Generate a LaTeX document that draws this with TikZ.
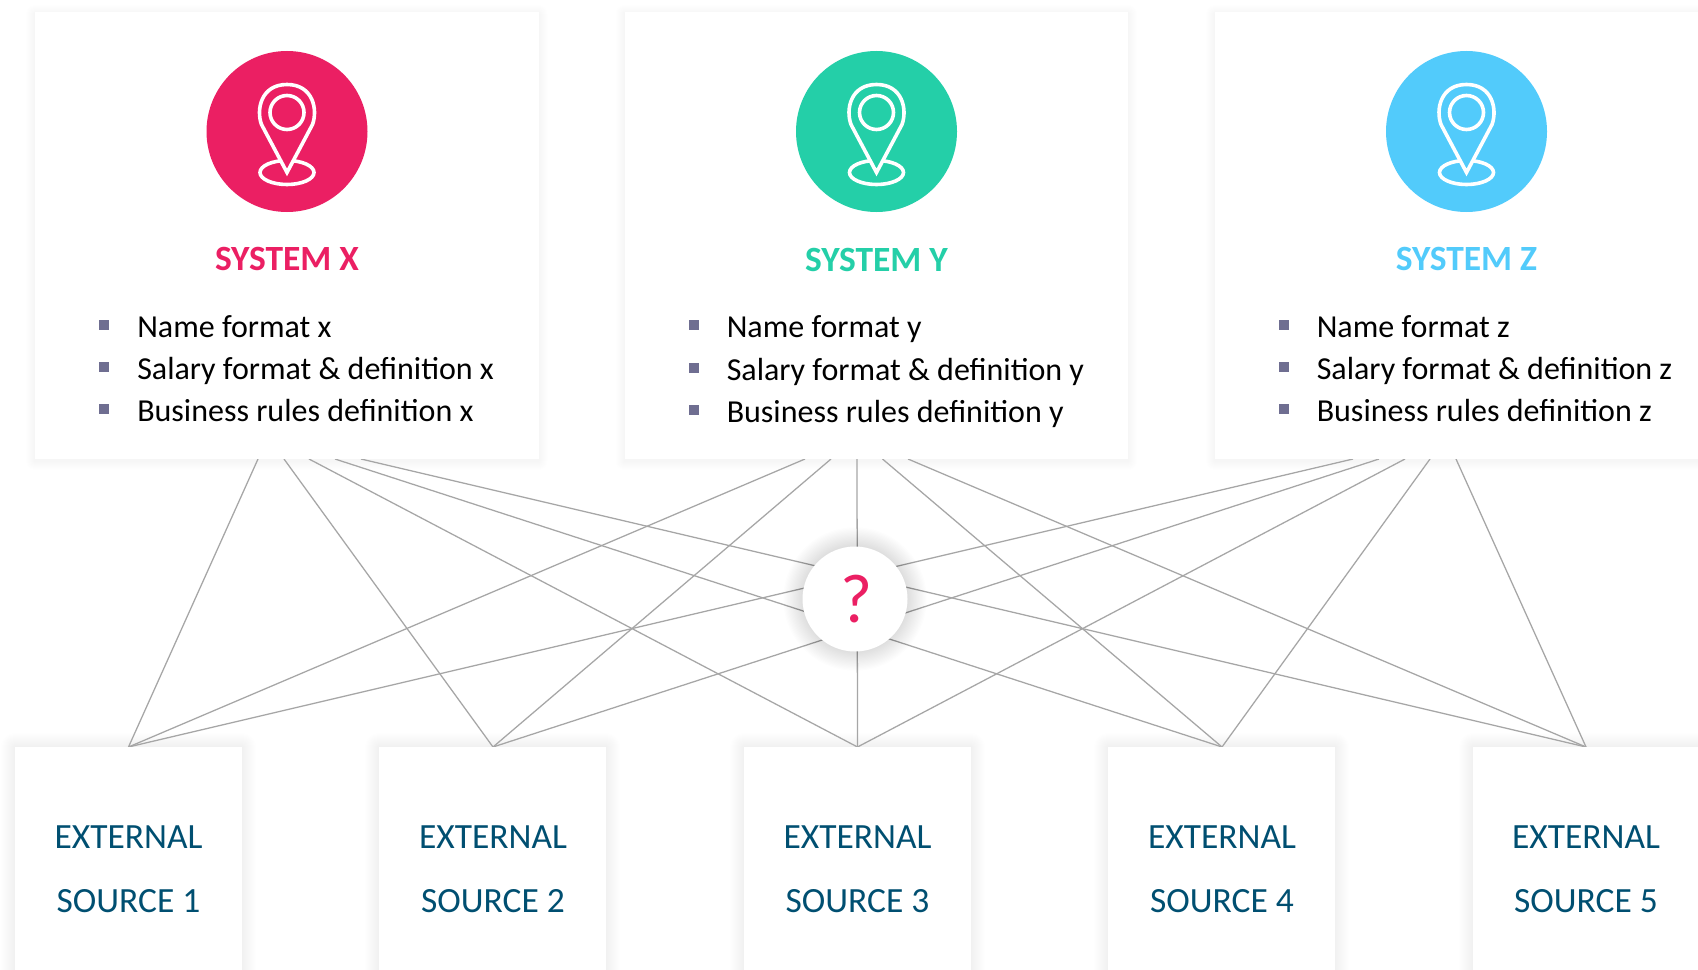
\documentclass[tikz,border=0pt]{standalone}
\usepackage{fontspec}
\setmainfont{Carlito}
\definecolor{pinkc}{HTML}{EB1F63}
\definecolor{greenc}{HTML}{24CFA8}
\definecolor{bluec}{HTML}{52CBFB}
\definecolor{navyc}{HTML}{004F71}
\definecolor{linkc}{HTML}{A6A6A6}
\definecolor{bulletc}{HTML}{6F6E91}
\newcommand{\softbox}[4]{%
  \foreach \i in {1,...,14}{\fill[black,opacity=.0055,rounded corners=\i*0.75pt] (#1-\i,#2-\i) rectangle (#3+\i,#4+\i);}}
\newcommand{\softcard}[4]{%
  \foreach \i in {1,...,9}{\fill[black,opacity=.004,rounded corners=\i*0.75pt] (#1-\i,#2-\i+2) rectangle (#3+\i,#4+\i+2);}}
\newcommand{\pinicon}[4]{% name, x, colour, y
  \node[disc,fill=#3] (#1) at (#2,#4) {};
  \begin{scope}[shift={(#2,#4)}]
    \draw[pinstroke] (0,41) ellipse [x radius=27,y radius=12];
    \draw[pinstroke,fill=#3,line join=miter] (0,41) -- (-25.5,-7) .. controls (-31,-22) and (-26,-47) .. (0,-47) .. controls (26,-47) and (31,-22) .. (25.5,-7) -- cycle;
    \draw[pinstroke] (0,-19) circle [radius=17];
  \end{scope}
}
\newcommand{\sysblock}[6]{% letter, dx, colour, row shift, title shift, lowercase
  \node[cardbox] (card#1) at (35+#2,12) {};
  \pinicon{disc#1}{287+#2}{#3}{131.5}
  \node[titletext,text=#3] (title#1) at (287+#2,270+#5) {SYSTEM #1};
  \node[sq] (bu#1a) at (104+#2,325) {};
  \node[sq] (bu#1b) at (104+#2,367+#4) {};
  \node[sq] (bu#1c) at (104+#2,409+#4) {};
  \node[rowtext] (row#1a) at (137+#2,337) {Name format #6};
  \node[rowtext] (row#1b) at (137+#2,379+#4) {Salary format \& definition #6};
  \node[rowtext] (row#1c) at (137+#2,421+#4) {Business rules definition #6};
}
\tikzset{
  cardbox/.style={draw=none,fill=white,anchor=north west,inner sep=0pt,minimum width=377.5pt,minimum height=335.25pt},
  sourcebox/.style={draw=none,fill=white,anchor=north west,inner sep=0pt,minimum width=170.25pt,minimum height=200pt},
  disc/.style={circle,draw=none,inner sep=0pt,minimum size=120.75pt},
  pinstroke/.style={draw=white,line width=2.7pt},
  titletext/.style={font=\fontsize{26.6}{30}\selectfont\bfseries,anchor=base,inner sep=0pt},
  rowtext/.style={font=\fontsize{24}{28}\selectfont,anchor=base west,inner sep=0pt,text=black},
  sq/.style={rectangle,fill=bulletc,inner sep=0pt,minimum size=7.5pt},
  srctext/.style={font=\fontsize{26.6}{31}\selectfont,anchor=base,inner sep=0pt,text=navyc},
  link/.style={draw=linkc,line width=0.95pt},
  qdisc/.style={circle,fill=white,draw=none,inner sep=0pt,minimum size=78.75pt},
}
\begin{document}
\begin{tikzpicture}[x=0.75pt,y=-0.75pt]
\useasboundingbox (0,0) rectangle (1698,970);
\clip (0,0) rectangle (1698,970);
\fill[white] (0,0) rectangle (1698,970);
% soft shadows
\softcard{35}{12}{538.5}{459}
\softcard{624.5}{12}{1128}{459}
\softcard{1215}{12}{1719}{459}
\foreach \sx in {15,379,744,1108,1473}{\softbox{\sx}{747}{\sx+227}{1000}}
% link ends
\foreach \n/\x in {xa/258,xb/284,xc/309,xd/335,xe/361,ya/805,yb/831,yc/857,yd/882.5,ye/908,za/1353,zb/1379,zc/1405,zd/1430,ze/1456}
  \coordinate (\n) at (\x,459);
\foreach \n/\x in {s1/128.5,s2/493,s3/857.5,s4/1222,s5/1586}
  \coordinate (\n) at (\x,747);
% links
\foreach \k in {x,y,z}{
  \draw[link] (\k a) -- (s1);
  \draw[link] (\k b) -- (s2);
  \draw[link] (\k c) -- (s3);
  \draw[link] (\k d) -- (s4);
  \draw[link] (\k e) -- (s5);
}
% question disc
\foreach \i in {1,...,16}{\fill[black,opacity=.007] (855,599) circle [radius=52.5+\i*1.2];}
\node[qdisc] (q) at (855,599) {};
\node[font=\fontsize{52}{58}\selectfont,text=pinkc,anchor=base,inner sep=0pt] (qmark) at (856.5,622) {?};
% top cards
\sysblock{X}{0}{pinkc}{0}{0}{x}
\sysblock{Y}{589.5}{greenc}{1}{1}{y}
\sysblock{Z}{1179.5}{bluec}{0}{0}{z}
% sources
\foreach \sx/\cx/\n in {15/128.5/1,379/493/2,744/857.5/3,1108/1222/4,1473/1586/5}{
  \node[sourcebox] (src\n) at (\sx,747) {};
  \node[srctext] (ext\n) at (\cx,848) {EXTERNAL};
  \node[srctext] (sou\n) at (\cx,912) {SOURCE \n};
}
\end{tikzpicture}
\end{document}
